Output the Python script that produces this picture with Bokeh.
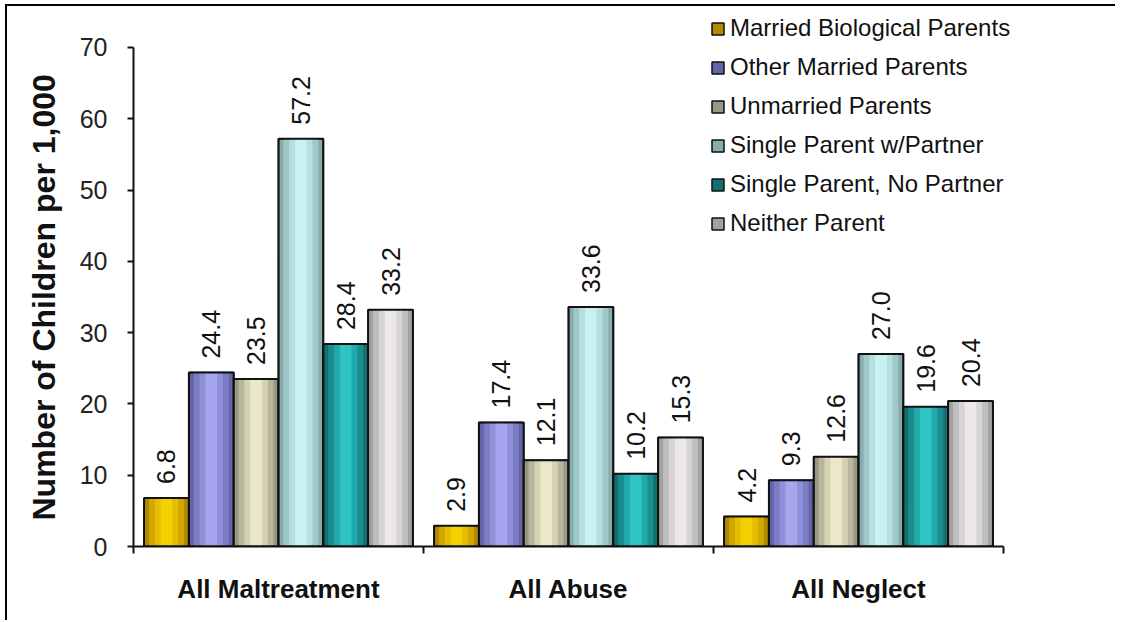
import numpy as np
from bokeh.plotting import figure
from bokeh.models import (Range1d, LinearAxis, FixedTicker, Legend, LegendItem,
                          ColumnDataSource, Title)
from bokeh.embed import file_html
from bokeh.resources import INLINE
from bokeh.core.properties import value

# ---------------- data ----------------
categories = ["All Maltreatment", "All Abuse", "All Neglect"]
series_names = [
    "Married Biological Parents",
    "Other Married Parents",
    "Unmarried Parents",
    "Single Parent w/Partner",
    "Single Parent, No Partner",
    "Neither Parent",
]
married_biological = [6.8, 2.9, 4.2]
other_married = [24.4, 17.4, 9.3]
unmarried = [23.5, 12.1, 12.6]
single_with_partner = [57.2, 33.6, 27.0]
single_no_partner = [28.4, 10.2, 19.6]
neither_parent = [33.2, 15.3, 20.4]
y_ticks = [0, 10, 20, 30, 40, 50, 60, 70]
y_label = "Number of Children per 1,000"

series_values = [married_biological, other_married, unmarried,
                 single_with_partner, single_no_partner, neither_parent]

# shading layers: edge -> centre
palettes = [
    ["#B08A00", "#D0A600", "#E6BC00", "#F4D000"],
    ["#6464A8", "#7C7CC4", "#9090DA", "#A6A6EE"],
    ["#9A9882", "#B8B69C", "#D4D2B2", "#EAE8C8"],
    ["#86ACAC", "#A0C8C8", "#B6E0E0", "#C8F2F2"],
    ["#137070", "#1A8E8E", "#22AAAA", "#30C4C4"],
    ["#A2A2A2", "#BEBEBE", "#D6D4D6", "#ECE8EA"],
]
layer_scale = [1.0, 0.78, 0.52, 0.26]

FONT = "Liberation Sans"

# ---------------- geometry ----------------
bar_w = 0.1545
n_series = len(series_names)
cat_centers = [i + 0.5 for i in range(len(categories))]

p = figure(
    width=1110, height=616,
    x_range=Range1d(0, 3.393), y_range=Range1d(0, 75.75),
    x_axis_type=None, y_axis_type=None,
    toolbar_location=None, output_backend="svg",
    min_border_left=126, min_border_right=0, min_border_top=0, min_border_bottom=76,
)
p.outline_line_color = None
p.xgrid.visible = False
p.ygrid.visible = False
p.background_fill_color = "white"
p.border_fill_color = "white"
p.styles = {"border-top": "2px solid black", "border-left": "2px solid black",
            "margin-left": "5px", "margin-top": "4px"}

legend_items = []
for j, (name, vals, pal) in enumerate(zip(series_names, series_values, palettes)):
    xs = [c + (j - (n_series - 1) / 2) * bar_w for c in cat_centers]
    src = ColumnDataSource(dict(x=xs, top=vals,
                                label=[f"{v:.1f}" for v in vals]))
    base = None
    for k, (col, sc) in enumerate(zip(pal, layer_scale)):
        r = p.vbar(x="x", top="top", bottom=0, width=bar_w * sc, source=src,
                   fill_color=col, line_color=("#111111" if k == 0 else None),
                   line_width=1.5)
        if k == 0:
            base = r
    p.vbar(x="x", top="top", bottom=0, width=bar_w, source=src,
           fill_alpha=0, line_color="#111111", line_width=2)
    p.text(x="x", y="top", text="label", source=src, angle=np.pi / 2,
           text_align="left", text_baseline="middle", y_offset=-14,
           text_font=value(FONT), text_font_size="25px", text_color="#111111")
    legend_items.append(LegendItem(label=name, renderers=[base]))

# ---------------- axes ----------------
yaxis = LinearAxis(
    ticker=FixedTicker(ticks=y_ticks), bounds=(0, 70),
    major_label_text_font=FONT, major_label_text_font_size="25px",
    major_label_text_color="#222222", major_label_standoff=20,
    axis_line_width=2, axis_line_color="#111111",
    major_tick_line_width=2, major_tick_line_color="#111111",
    major_tick_in=0, major_tick_out=6,
    minor_tick_line_color=None,
)
p.add_layout(yaxis, "left")

ytitle = Title(text=y_label, align="left", offset=26,
               text_font=FONT, text_font_style="bold", text_font_size="32px",
               text_color="#111111", standoff=30)
p.add_layout(ytitle, "left")

xaxis = LinearAxis(
    ticker=FixedTicker(ticks=cat_centers, minor_ticks=[0, 1, 2, 3]),
    bounds=(0, 3),
    major_label_overrides={c: lab for c, lab in zip(cat_centers, categories)},
    major_label_text_font=FONT, major_label_text_font_size="26px",
    major_label_text_font_style="bold", major_label_text_color="#111111",
    major_label_standoff=20,
    axis_line_width=2, axis_line_color="#111111",
    major_tick_line_color=None, major_tick_in=0, major_tick_out=0,
    minor_tick_line_color="#111111", minor_tick_line_width=2,
    minor_tick_in=0, minor_tick_out=7,
)
p.add_layout(xaxis, "below")

# ---------------- legend ----------------
legend = Legend(
    items=legend_items, location=(577, 309),
    label_text_font=FONT, label_text_font_size="24px", label_text_color="#111111",
    glyph_width=15, glyph_height=15, label_standoff=5, label_height=28,
    spacing=11, padding=0, margin=0,
    border_line_color=None, background_fill_alpha=0,
)
p.add_layout(legend)

open("out.html", "w").write(file_html(p, INLINE))
